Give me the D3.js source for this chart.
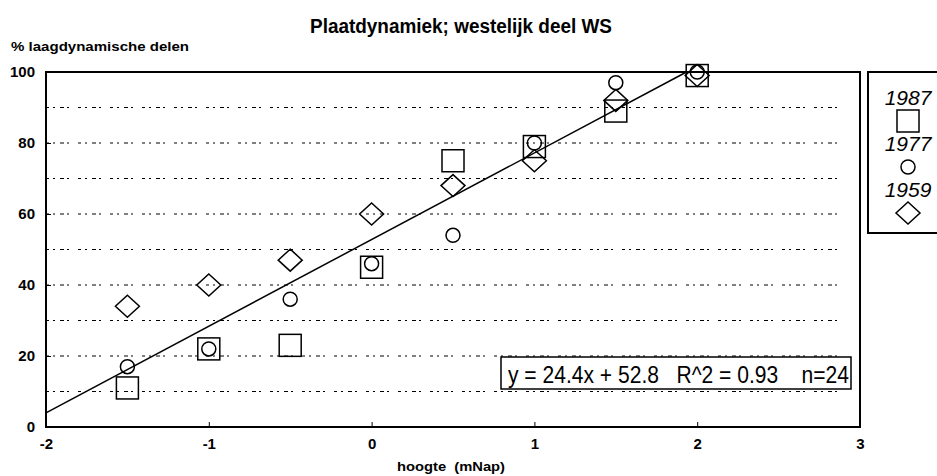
<!DOCTYPE html>
<html>
<head>
<meta charset="utf-8">
<script src="https://cdn.jsdelivr.net/npm/d3@7/dist/d3.min.js"></script>
<style>
  body { margin: 0; background: #fff; }
  text { font-family: "Liberation Sans", Arial, sans-serif; }
</style>
</head>
<body>
<div id="chart"></div>
<script>
// hoogte (mNap) per meetpunt
var hoogte = [-1.5, -1, -0.5, 0, 0.5, 1, 1.5, 2];
// % laagdynamische delen per jaar
var jaren = ["1987", "1977", "1959"];
var v1987 = [11, 22, 23, 45, 75, 79, 89, 99];
var v1977 = [17, 22, 36, 46, 54, 80, 97, 100];
var v1959 = [34, 40, 47, 60, 68, 75, 92, 99];
// regressie
var helling = 24.4, snijpunt = 52.8;
var xTicks = [-2, -1, 0, 1, 2, 3];
var yTicks = [0, 20, 40, 60, 80, 100];
var gridTicks = [10, 20, 30, 40, 50, 60, 70, 80, 90];

var w = 937, h = 476;
var svg = d3.select("#chart").append("svg")
  .attr("width", w).attr("height", h);

var xScale = d3.scaleLinear().domain([-2, 3]).range([46, 860]);
var yScale = d3.scaleLinear().domain([0, 100]).range([427, 72]);

// title
svg.append("text")
  .attr("x", 310).attr("y", 33)
  .attr("textLength", 302).attr("lengthAdjust", "spacingAndGlyphs")
  .style("font-size", "20px").style("font-weight", "bold")
  .text("Plaatdynamiek; westelijk deel WS");

svg.append("text")
  .attr("x", 11).attr("y", 51)
  .attr("textLength", 178).attr("lengthAdjust", "spacingAndGlyphs")
  .style("font-size", "12px").style("font-weight", "bold")
  .text("% laagdynamische delen");

// gridlines
svg.append("g").selectAll("line")
  .data(gridTicks).enter().append("line")
  .attr("x1", xScale(-2)).attr("x2", xScale(2.9))
  .attr("y1", function(d) { return yScale(d); })
  .attr("y2", function(d) { return yScale(d); })
  .attr("stroke", "#000").attr("stroke-width", 1)
  .attr("stroke-dasharray", "3,4,2,5,4,3,2,9");

// frame
svg.append("rect")
  .attr("x", xScale(-2)).attr("y", yScale(100))
  .attr("width", xScale(3) - xScale(-2))
  .attr("height", yScale(0) - yScale(100))
  .attr("fill", "none").attr("stroke", "#000").attr("stroke-width", 2);

// axes
var fmt = function(d) { return String(d); };
var xAxis = svg.append("g")
  .attr("transform", "translate(0," + yScale(0) + ")")
  .call(d3.axisBottom(xScale).tickValues(xTicks).tickFormat(fmt)
    .tickSizeInner(-5).tickSizeOuter(0).tickPadding(11));
var yAxis = svg.append("g")
  .attr("transform", "translate(" + xScale(-2) + ",0)")
  .call(d3.axisLeft(yScale).tickValues(yTicks).tickFormat(fmt)
    .tickSizeInner(-5).tickSizeOuter(0).tickPadding(11));
[xAxis, yAxis].forEach(function(a) {
  a.select(".domain").remove();
  a.selectAll("text").style("font-size", "15px").style("font-weight", "bold")
    .style("font-family", "'Liberation Sans', Arial, sans-serif");
});

svg.append("text")
  .attr("x", 397).attr("y", 471)
  .attr("textLength", 108).attr("lengthAdjust", "spacingAndGlyphs")
  .style("font-size", "12px").style("font-weight", "bold")
  .attr("xml:space", "preserve")
  .text("hoogte  (mNap)");

// regression line
var xEnd = (100 - snijpunt) / helling;
svg.append("line")
  .attr("x1", xScale(-2)).attr("y1", yScale(helling * -2 + snijpunt))
  .attr("x2", xScale(xEnd)).attr("y2", yScale(100))
  .attr("stroke", "#000").attr("stroke-width", 1.5);

// markers
function vierkant(g, x, y) {
  g.append("rect").attr("x", x - 11).attr("y", y - 11)
    .attr("width", 22).attr("height", 22)
    .attr("fill", "none").attr("stroke", "#000").attr("stroke-width", 1.5);
}
function cirkel(g, x, y) {
  g.append("circle").attr("cx", x).attr("cy", y).attr("r", 7)
    .attr("fill", "none").attr("stroke", "#000").attr("stroke-width", 1.5);
}
function ruit(g, x, y) {
  g.append("path")
    .attr("d", "M" + x + "," + (y - 11) + "L" + (x + 12) + "," + y + "L" + x + "," + (y + 11) + "L" + (x - 12) + "," + y + "Z")
    .attr("fill", "none").attr("stroke", "#000").attr("stroke-width", 1.5);
}
var marks = svg.append("g");
var reeksen = [[v1959, ruit], [v1987, vierkant], [v1977, cirkel]];
reeksen.forEach(function(r) {
  r[0].forEach(function(v, i) {
    r[1](marks, xScale(hoogte[i]), yScale(v));
  });
});

// equation box
var eq = svg.append("g");
eq.append("rect")
  .attr("x", 501).attr("y", 357).attr("width", 350).attr("height", 32)
  .attr("fill", "#fff").attr("stroke", "#000").attr("stroke-width", 1.5);
eq.append("text")
  .attr("x", 508).attr("y", 383)
  .attr("textLength", 341).attr("lengthAdjust", "spacingAndGlyphs")
  .style("font-size", "24px")
  .attr("xml:space", "preserve")
  .text("y = " + helling + "x + " + snijpunt + "   R^2 = 0.93    n=24");

// legend
var lg = svg.append("g");
lg.append("rect")
  .attr("x", 868).attr("y", 72).attr("width", 80).attr("height", 161)
  .attr("fill", "#fff").attr("stroke", "#000").attr("stroke-width", 2);
var tekens = [vierkant, cirkel, ruit];
jaren.forEach(function(j, i) {
  var yy = 105 + i * 46;
  lg.append("text").attr("x", 908).attr("y", yy)
    .attr("text-anchor", "middle")
    .style("font-size", "21px").style("font-style", "italic")
    .text(j);
  tekens[i](lg, 908, yy + 16);
});
</script>
</body>
</html>
